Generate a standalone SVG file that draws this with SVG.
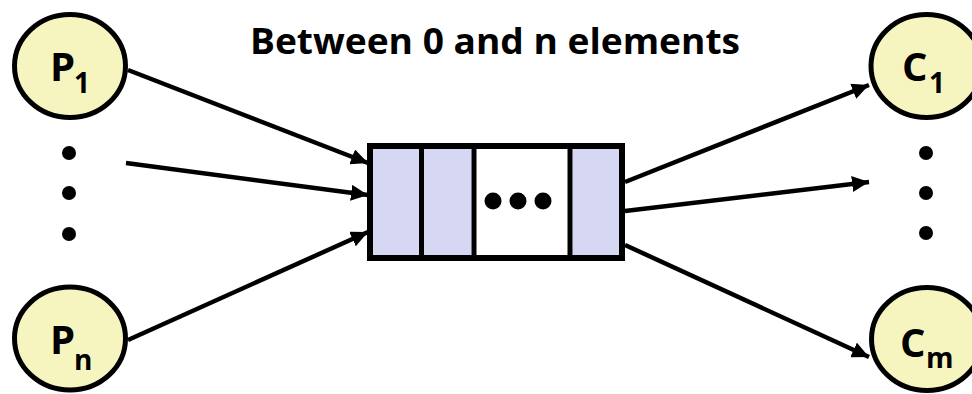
<svg xmlns="http://www.w3.org/2000/svg" width="972" height="394" viewBox="0 0 972 394">
<style>
.node{fill:#F6F4BF;stroke:#000;stroke-width:5}
.cell{fill:#D5D7F3;stroke:none}
.lbl{font-family:"Open Sans","Liberation Sans",sans-serif;font-weight:700;fill:#000}
.big{font-size:40px}
.sub{font-size:28px}
.conn{stroke:#000;stroke-width:4.5;fill:none;marker-end:url(#ah)}
.dot{fill:#000}
</style>
<defs>
<marker id="ah" markerUnits="userSpaceOnUse" markerWidth="18" markerHeight="16" refX="17" refY="8" orient="auto">
<path d="M0,0 L17,8 L0,16 z" fill="#000"/>
</marker>
</defs>
<rect width="972" height="394" fill="#fff"/>
<text id="title" class="lbl" x="250" y="54" font-size="36" textLength="490" lengthAdjust="spacingAndGlyphs">Between 0 and n elements</text>
<g id="connectors">
<line class="conn" x1="128" y1="70" x2="368" y2="163"/>
<line class="conn" x1="126" y1="163" x2="368" y2="195"/>
<line class="conn" x1="128" y1="340" x2="368" y2="232"/>
<line class="conn" x1="625" y1="182" x2="869" y2="85"/>
<line class="conn" x1="625" y1="211" x2="869" y2="182"/>
<line class="conn" x1="625" y1="245" x2="869" y2="357"/>
</g>
<g id="buffer">
<rect x="370" y="146" width="252" height="112" fill="#fff" stroke="#000" stroke-width="6"/>
<rect class="cell" x="373" y="149" width="46.5" height="106"/>
<rect class="cell" x="424" y="149" width="47.5" height="106"/>
<rect class="cell" x="572.5" y="149" width="46.5" height="106"/>
<line x1="421.5" y1="146" x2="421.5" y2="258" stroke="#000" stroke-width="5"/>
<line x1="474" y1="146" x2="474" y2="258" stroke="#000" stroke-width="5"/>
<line x1="570" y1="146" x2="570" y2="258" stroke="#000" stroke-width="5"/>
<circle class="dot" cx="493" cy="201" r="8.5"/>
<circle class="dot" cx="518" cy="201" r="8.5"/>
<circle class="dot" cx="543" cy="201" r="8.5"/>
</g>
<g id="P1">
<ellipse class="node" cx="70" cy="66" rx="55.5" ry="51.5"/>
<text class="lbl" x="50" y="81"><tspan class="big">P</tspan><tspan class="sub" x="74" y="93">1</tspan></text>
</g>
<g id="Pn">
<ellipse class="node" cx="70" cy="338.5" rx="55.5" ry="51.5"/>
<text class="lbl" x="50" y="354"><tspan class="big">P</tspan><tspan class="sub" x="74" y="370">n</tspan></text>
</g>
<g id="C1">
<ellipse class="node" cx="926.5" cy="66" rx="55.5" ry="51.5"/>
<text class="lbl" x="902" y="81"><tspan class="big">C</tspan><tspan class="sub" x="929" y="93">1</tspan></text>
</g>
<g id="Cm">
<ellipse class="node" cx="927" cy="339" rx="55.5" ry="51.5"/>
<text class="lbl" x="900" y="357"><tspan class="big">C</tspan><tspan class="sub" x="926" y="368">m</tspan></text>
</g>
<g id="left-dots">
<circle class="dot" cx="69" cy="153" r="7"/>
<circle class="dot" cx="69" cy="193" r="7"/>
<circle class="dot" cx="69" cy="234" r="7"/>
</g>
<g id="right-dots">
<circle class="dot" cx="926" cy="153" r="7"/>
<circle class="dot" cx="926" cy="193" r="7"/>
<circle class="dot" cx="926" cy="233" r="7"/>
</g>
</svg>
